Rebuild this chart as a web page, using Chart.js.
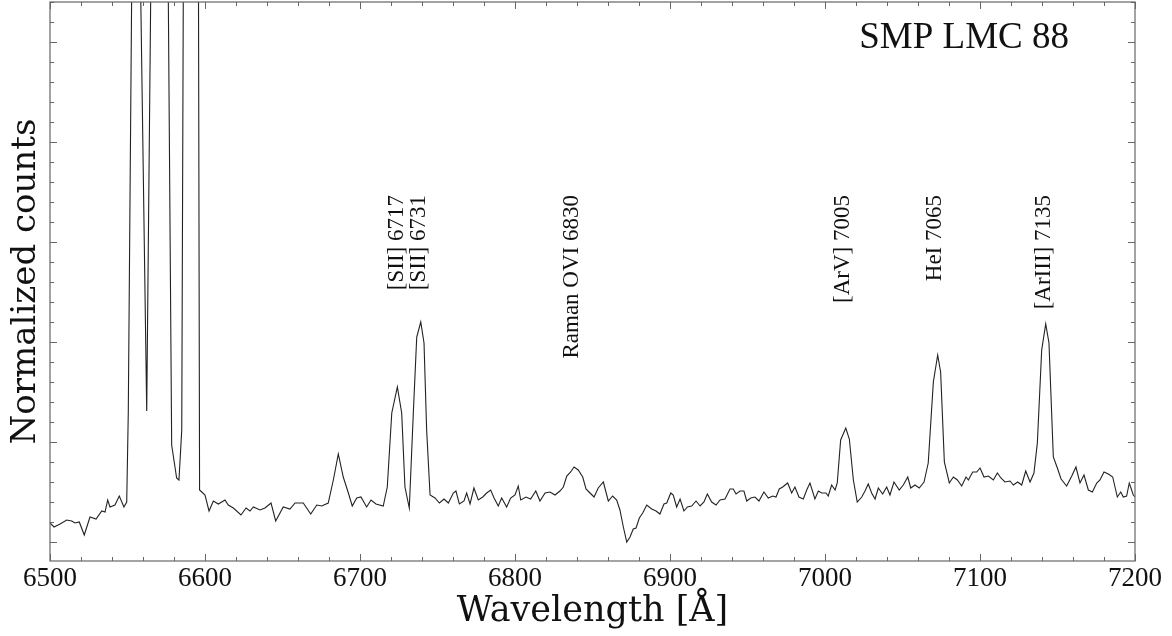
<!DOCTYPE html>
<html>
<head>
<meta charset="utf-8">
<script src="https://cdn.jsdelivr.net/npm/chart.js@4/dist/chart.umd.min.js"></script>
<style>
  body { margin: 0; background: #fff; }
  #wrap { width: 1172px; height: 636px; }
</style>
</head>
<body>
<div id="wrap"><canvas id="spectrum" width="1172" height="636"></canvas></div>
<script>
// Spectrum (wavelength in Angstrom, normalized counts)
const wavelength = [
  6500.0, 6502.6, 6506.5, 6510.8, 6514.0, 6516.1, 6518.9, 6522.1, 6525.8, 6529.7,
  6533.4, 6535.5, 6537.2, 6538.7, 6541.9, 6544.7, 6547.7, 6549.5, 6550.5, 6552.7,
  6555.0, 6558.5, 6562.4, 6565.0, 6569.0, 6576.3, 6578.5, 6581.7, 6583.2, 6585.0,
  6586.0, 6590.0, 6595.8, 6596.5, 6597.9, 6600.0, 6602.6, 6605.4, 6608.6, 6612.9,
  6615.0, 6618.3, 6623.2, 6626.5, 6629.0, 6631.2, 6635.5, 6638.7, 6642.6, 6645.6,
  6650.5, 6654.8, 6658.1, 6663.4, 6668.2, 6672.1, 6675.3, 6679.5, 6682.8, 6686.0,
  6689.2, 6692.5, 6695.0, 6697.9, 6700.6, 6704.3, 6707.1, 6710.3, 6715.0, 6717.6,
  6720.5, 6724.1, 6726.9, 6729.0, 6731.8, 6734.4, 6736.6, 6739.2, 6741.3, 6743.0,
  6745.2, 6748.4, 6751.2, 6754.2, 6757.0, 6760.2, 6761.9, 6764.1, 6767.1, 6768.8,
  6771.0, 6773.5, 6776.3, 6779.2, 6781.7, 6784.3, 6786.5, 6789.2, 6791.4, 6794.6,
  6797.2, 6800.0, 6802.1, 6803.7, 6807.1, 6810.1, 6813.4, 6816.1, 6819.4, 6822.6,
  6825.8, 6829.0, 6831.2, 6833.4, 6835.9, 6838.1, 6840.8, 6843.7, 6845.8, 6848.4,
  6851.0, 6853.7, 6857.0, 6860.2, 6863.0, 6865.6, 6867.7, 6869.9, 6872.1, 6874.2,
  6876.3, 6878.1, 6880.2, 6882.4, 6885.0, 6888.2, 6891.0, 6893.5, 6896.1, 6897.9,
  6900.5, 6902.1, 6904.3, 6906.5, 6909.0, 6911.2, 6914.0, 6916.8, 6919.4, 6921.9,
  6924.1, 6926.9, 6929.7, 6932.3, 6935.5, 6938.7, 6940.8, 6942.6, 6945.2, 6947.7,
  6949.5, 6952.1, 6954.8, 6957.4, 6960.6, 6963.4, 6966.3, 6968.4, 6970.5, 6972.7,
  6975.9, 6978.5, 6980.6, 6983.2, 6986.0, 6988.2, 6990.3, 6993.5, 6995.7, 6997.9,
  7000.6, 7002.1, 7004.3, 7006.5, 7007.9, 7010.1, 7013.4, 7015.7, 7018.3, 7020.8,
  7023.7, 7025.8, 7027.9, 7030.1, 7032.3, 7034.4, 7037.2, 7039.8, 7041.9, 7044.5,
  7047.9, 7050.5, 7053.4, 7055.3, 7058.1, 7060.8, 7063.9, 7066.6, 7069.9, 7072.7,
  7074.6, 7077.0, 7080.2, 7082.8, 7085.4, 7088.2, 7091.0, 7092.5, 7095.3, 7097.9,
  7100.0, 7102.6, 7105.4, 7108.6, 7111.2, 7113.5, 7116.1, 7119.4, 7121.5, 7124.3,
  7126.9, 7129.5, 7132.3, 7134.8, 7137.0, 7139.8, 7142.4, 7144.5, 7147.3, 7149.9,
  7152.3, 7155.9, 7159.2, 7161.9, 7164.5, 7167.1, 7169.9, 7172.5, 7175.3, 7177.4,
  7180.0, 7182.8, 7185.6, 7188.6, 7190.8, 7192.5, 7194.6, 7196.3, 7198.9, 7200.0
];
const counts = [
  0.19, 0.15, 0.18, 0.22, 0.21, 0.19, 0.20, 0.07, 0.25, 0.23,
  0.31, 0.30, 0.42, 0.35, 0.37, 0.46, 0.35, 0.40, 1.29, 5.5,
  9.0, 5.5, 1.31, 5.5, 30, 5.5, 0.97, 0.64, 0.62, 1.12,
  5.5, 12, 5.5, 0.52, 0.50, 0.47, 0.31, 0.41, 0.38, 0.42,
  0.37, 0.34, 0.27, 0.34, 0.31, 0.35, 0.32, 0.34, 0.39, 0.21,
  0.35, 0.33, 0.39, 0.39, 0.28, 0.37, 0.36, 0.39, 0.62, 0.88,
  0.65, 0.49, 0.36, 0.44, 0.45, 0.35, 0.42, 0.38, 0.36, 0.55,
  1.29, 1.55, 1.29, 0.55, 0.34, 1.29, 2.05, 2.20, 1.99, 1.12,
  0.47, 0.44, 0.39, 0.43, 0.39, 0.49, 0.51, 0.38, 0.41, 0.49,
  0.38, 0.54, 0.42, 0.45, 0.49, 0.52, 0.44, 0.36, 0.44, 0.35,
  0.44, 0.47, 0.56, 0.42, 0.45, 0.43, 0.51, 0.41, 0.49, 0.50,
  0.47, 0.51, 0.55, 0.66, 0.70, 0.75, 0.72, 0.65, 0.53, 0.49,
  0.45, 0.54, 0.60, 0.41, 0.46, 0.42, 0.32, 0.15, 0.00, 0.05,
  0.13, 0.14, 0.24, 0.29, 0.37, 0.33, 0.31, 0.28, 0.38, 0.39,
  0.49, 0.47, 0.35, 0.43, 0.31, 0.35, 0.36, 0.41, 0.36, 0.40,
  0.48, 0.40, 0.37, 0.42, 0.43, 0.53, 0.53, 0.48, 0.51, 0.51,
  0.41, 0.44, 0.45, 0.41, 0.50, 0.44, 0.46, 0.45, 0.53, 0.55,
  0.59, 0.49, 0.55, 0.45, 0.43, 0.52, 0.59, 0.43, 0.51, 0.49,
  0.49, 0.46, 0.57, 0.52, 0.59, 1.02, 1.14, 1.03, 0.62, 0.40,
  0.45, 0.51, 0.58, 0.49, 0.43, 0.54, 0.48, 0.55, 0.47, 0.60,
  0.52, 0.57, 0.65, 0.54, 0.57, 0.54, 0.60, 0.79, 1.60, 1.87,
  1.70, 0.80, 0.59, 0.65, 0.62, 0.56, 0.65, 0.62, 0.70, 0.70,
  0.74, 0.65, 0.66, 0.62, 0.69, 0.64, 0.60, 0.61, 0.57, 0.60,
  0.57, 0.71, 0.60, 0.69, 0.99, 1.92, 2.18, 1.99, 0.85, 0.74,
  0.63, 0.56, 0.66, 0.75, 0.59, 0.67, 0.52, 0.50, 0.59, 0.62,
  0.70, 0.68, 0.65, 0.45, 0.50, 0.45, 0.46, 0.59, 0.47, 0.45
];

// Line identifications (placed at observed wavelength)
const lineNames = ['[SII] 6717', '[SII] 6731', 'Raman OVI 6830', '[ArV] 7005', 'HeI 7065', '[ArIII] 7135'];
const lineWaves = [6723.7, 6737.9, 6836.6, 7011.8, 7071.2, 7141.5];
const objectName = 'SMP LMC 88';

const FONT = "'Liberation Serif', 'DejaVu Serif', serif";
const WIDE = "'DejaVu Serif', 'Liberation Serif', serif";

// frame with inward ticks on all four sides, plus labels
const decorPlugin = {
  id: 'decor',
  afterDatasetsDraw(chart) {
    const { ctx, chartArea: a, scales: { x, y } } = chart;
    ctx.save();
    ctx.strokeStyle = '#666';
    ctx.lineWidth = 1.2;
    ctx.strokeRect(a.left, a.top, a.right - a.left, a.bottom - a.top);

    ctx.lineWidth = 1;
    ctx.beginPath();
    for (let v = 6500; v <= 7200; v += 20) {
      const px = Math.round(x.getPixelForValue(v)) + 0.5;
      const len = v % 100 === 0 ? 7 : 4;
      ctx.moveTo(px, a.bottom); ctx.lineTo(px, a.bottom - len);
      ctx.moveTo(px, a.top); ctx.lineTo(px, a.top + len);
    }
    for (let i = 0; i <= 27; i++) {
      const py = Math.round(y.getPixelForValue(i * 0.2)) + 0.5;
      const len = i % 5 === 0 ? 7 : 4;
      ctx.moveTo(a.left, py); ctx.lineTo(a.left + len, py);
      ctx.moveTo(a.right, py); ctx.lineTo(a.right - len, py);
    }
    ctx.stroke();

    // line labels, rotated
    ctx.fillStyle = '#111';
    ctx.font = '23px ' + FONT;
    ctx.textAlign = 'right';
    ctx.textBaseline = 'middle';
    const labelTop = y.getPixelForValue(3.47);
    lineNames.forEach((name, i) => {
      ctx.save();
      ctx.translate(x.getPixelForValue(lineWaves[i]), labelTop);
      ctx.rotate(-Math.PI / 2);
      ctx.fillText(name, 0, 0);
      ctx.restore();
    });

    // object name
    ctx.font = '37px ' + FONT;
    ctx.textAlign = 'right';
    ctx.textBaseline = 'alphabetic';
    ctx.fillText(objectName, a.right - 66, a.top + 46);
    ctx.restore();
  }
};

new Chart(document.getElementById('spectrum'), {
  type: 'line',
  data: {
    datasets: [{
      data: wavelength.map((w, i) => ({ x: w, y: counts[i] })),
      borderColor: '#222',
      borderWidth: 1.1,
      pointRadius: 0,
      tension: 0,
      fill: false
    }]
  },
  options: {
    responsive: false,
    animation: false,
    layout: { padding: { top: 2, right: 37, left: 0, bottom: 0 } },
    plugins: { legend: { display: false }, tooltip: { enabled: false } },
    scales: {
      x: {
        type: 'linear',
        min: 6500,
        max: 7200,
        afterFit(s) { s.height = 75; },
        grid: { display: false, drawTicks: false },
        border: { display: false },
        ticks: {
          stepSize: 100,
          padding: 2,
          maxRotation: 0,
          color: '#111',
          font: { family: FONT, size: 27 },
          callback: v => String(v)
        },
        title: {
          display: true,
          text: 'Wavelength [Å]',
          color: '#111',
          font: { family: WIDE, size: 35 },
          padding: { top: 0, bottom: 3 }
        }
      },
      y: {
        type: 'linear',
        min: -0.19,
        max: 5.4,
        afterFit(s) { s.width = 50; },
        grid: { display: false, drawTicks: false },
        border: { display: false },
        ticks: { display: false },
        title: {
          display: true,
          text: 'Normalized counts',
          color: '#111',
          font: { family: WIDE, size: 34 },
          padding: { top: 6, bottom: 0 }
        }
      }
    }
  },
  plugins: [decorPlugin]
});
</script>
</body>
</html>
